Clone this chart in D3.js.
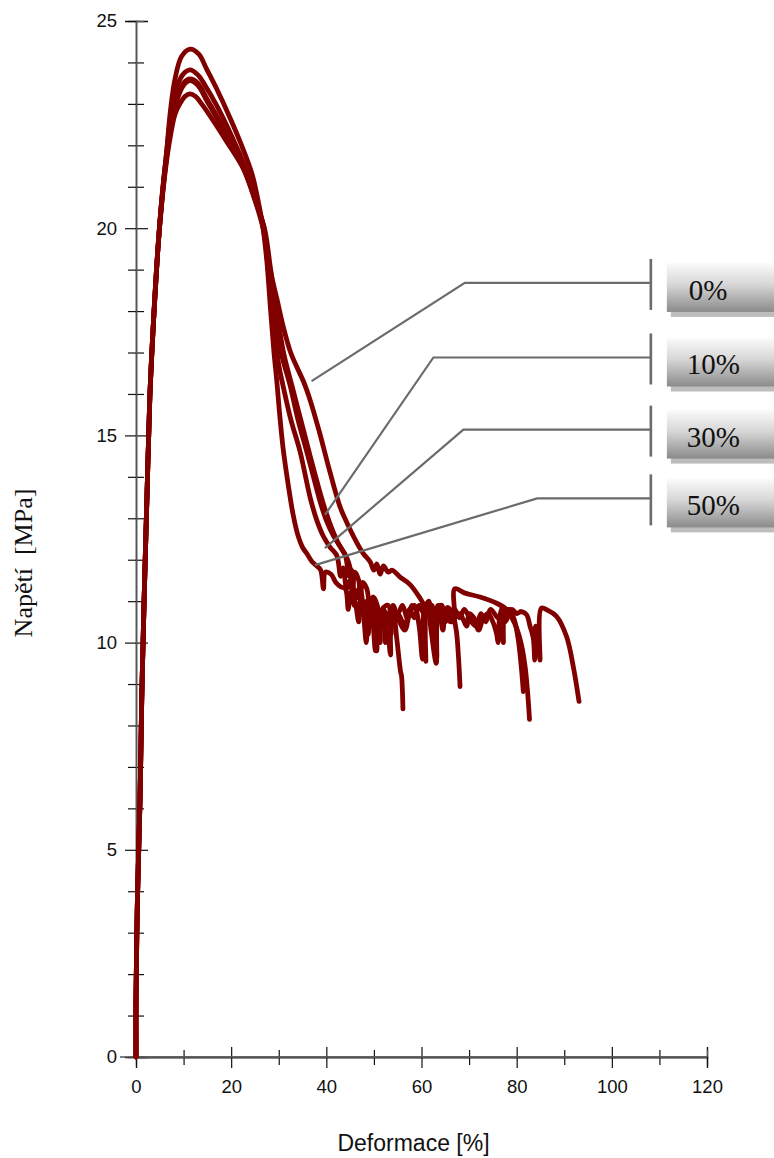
<!DOCTYPE html>
<html>
<head>
<meta charset="utf-8">
<script src="https://cdn.jsdelivr.net/npm/d3@7"></script>
<style>
  body { margin: 0; background: #fff; }
  svg { display: block; }
  .tick text { font-family: "Liberation Sans", Arial, sans-serif; font-size: 18.5px; fill: #111; }
</style>
</head>
<body>
<div id="chart"></div>
<script>
// stress–strain curves, values: [deformace %, napětí MPa]
const curve0 = [
  [0,0],[0,1.4],[0.3,3.8],[0.84,6.2],[1.2,8.6],[1.7,11],[2.3,13.5],[2.9,15.9],[3.7,17.8],[4.6,19.5],[5.5,20.7],
  [6.4,21.6],[7.2,22.2],[8.2,22.75],[9.2,23.0],[10.3,23.18],[11.35,23.24],[12.5,23.18],[13.8,23.0],[16.2,22.6],
  [19,22.1],[22.5,21.45],[24.5,20.85],[26.7,20.0],[28,19.1],[29.6,18.3],[31,17.6],[32.5,17.0],[34,16.6],[35.2,16.3],
  [36.6,15.85],[38.5,15.1],[40.8,14.1],[42.9,13.27],[44.3,12.9],[46,12.5],[47.7,12.16],[49.2,11.95],[50,11.75],
  [50.6,11.9],[51.3,11.65],[52,11.85],[53,11.7],[53.8,11.75],[55.5,11.58],[57.6,11.4],[59.7,11.07],[60.7,10.87],
  [61.5,10.7],[62.2,10.9],[62.8,10.3],[63.2,9.6],[63.5,10.8],[64.3,10.9],[65,10.6],[65.6,10.8],[66.4,10.5],
  [66.9,10.55],[67.0,11.3],[69,11.2],[72.3,11.1],[75.8,10.95],[77.9,10.8],[79,10.6],[80,10.35],[81,9.95],
  [81.8,9.4],[82.3,8.8],[82.7,8.15]
];
const curve10 = [
  [0,0],[0,1.4],[0.3,3.8],[0.84,6.2],[1.2,8.6],[1.7,11],[2.3,13.5],[2.9,15.9],[3.7,17.8],[4.6,19.5],[5.5,20.75],
  [6.4,21.7],[7.3,22.4],[8.5,23.05],[10,23.45],[11.35,23.56],[13,23.45],[15,23.05],[17.5,22.55],[20,22.0],[23,21.35],
  [25,20.7],[26.9,20.0],[28,19.0],[29.2,18.0],[30.5,17.0],[32.4,16.2],[34,15.4],[35.9,14.6],[37.3,14.0],[38.7,13.4],
  [40,12.95],[41.4,12.6],[43,12.3],[44.3,12.05],[45,11.8],[45.5,11.3],[46,11.7],[46.8,11.5],[47.2,11.0],[47.6,11.45],
  [48.5,11.3],[49.3,10.6],[49.8,11.1],[50.7,10.9],[51.3,10.0],[51.7,10.8],[53,10.9],[53.6,10.2],[54,10.8],[55,10.7],
  [56,10.9],[57,10.6],[58,10.9],[59,10.8],[60,10.9],[60.6,10.2],[60.9,9.55],[61.2,10.8],[62,10.8],[63,10.6],
  [64,10.9],[65,10.5],[66,10.8],[67,10.6],[68,10.7],[69.5,10.4],[70,10.7],[71,10.6],[72,10.3],[73,10.6],[74,10.7],
  [75,10.5],[75.8,10.2],[76.1,10.0],[76.4,10.6],[77.0,10.85],[77.2,10.0],[77.5,10.7],[78.5,10.8],[79.5,10.55],
  [80.3,10.1],[80.9,9.5],[81.4,8.82]
];
const curve30 = [
  [0,0],[0,1.4],[0.3,3.8],[0.84,6.2],[1.2,8.6],[1.7,11],[2.3,13.5],[2.9,15.9],[3.7,17.8],[4.6,19.5],[5.5,20.8],
  [6.4,21.8],[7.2,22.6],[8.3,23.3],[9.8,23.7],[11.35,23.82],[13,23.7],[14.5,23.45],[17,22.95],[20,22.25],[23,21.45],
  [25,20.75],[26.8,20.0],[27.8,19.0],[29,17.7],[30,16.7],[30.9,16.2],[32.5,15.4],[34.5,14.6],[36.6,13.5],[38,12.95],
  [39.4,12.56],[40.8,12.3],[42.2,12.1],[43,11.6],[43.5,11.8],[44.3,11.3],[45,11.5],[45.8,10.9],[46.3,11.2],
  [47.5,10.9],[48.4,10.0],[48.8,10.8],[49.6,10.6],[50.3,9.8],[50.6,10.7],[51.5,10.5],[52.3,10.7],[53,10.2],
  [53.5,9.7],[53.8,10.6],[55,10.7],[56.5,10.4],[57.5,10.8],[58.5,10.6],[59.5,10.9],[60.5,10.7],[61.3,10.9],
  [62,10.3],[63.1,9.5],[63.4,10.8],[64.5,10.7],[65.5,10.85],[66.5,10.7],[67.3,10.3],[67.8,9.6],[68.1,8.94]
];
const curve50 = [
  [0,0],[0,1.4],[0.3,3.8],[0.84,6.2],[1.2,8.6],[1.7,11],[2.3,13.5],[2.9,15.9],[3.7,17.8],[4.6,19.5],[5.5,20.8],
  [6.4,21.8],[7.2,22.8],[8.2,23.6],[9.6,24.15],[11.4,24.32],[13.2,24.2],[14.8,23.85],[16.8,23.4],[20,22.6],[22,22.05],
  [24.4,21.3],[25.6,20.7],[26.7,20.0],[27.5,19.2],[28.3,18.0],[29,17.0],[29.6,16.3],[30.2,15.5],[30.9,14.7],
  [32,13.8],[33,13.1],[34,12.6],[35,12.3],[35.9,12.15],[37,11.95],[38,11.85],[38.8,11.75],[39.4,11.3],[39.8,11.7],
  [41,11.65],[42,11.45],[43,11.35],[44,11.3],[44.6,10.8],[45,11.2],[46,11.0],[46.8,10.5],[47.2,11.0],[48,10.9],
  [48.8,10.2],[49.2,10.8],[50,10.7],[50.6,9.8],[51,10.6],[51.8,10.7],[52.4,10.0],[52.8,10.7],[53.5,10.5],[54,10.8],
  [54.8,10.1],[55.6,9.3],[55.8,9.2],[56.1,8.4]
];
const curveExtra = [
  [0,0],[0,1.4],[0.3,3.8],[0.84,6.2],[1.2,8.6],[1.7,11],[2.3,13.5],[2.9,15.9],[3.7,17.8],[4.6,19.5],[5.5,20.75],
  [6.4,21.7],[7.3,22.45],[8.5,23.1],[10,23.5],[11.4,23.6],[13,23.5],[15,23.1],[17.5,22.6],[20,22.05],[23,21.35],
  [25,20.7],[27,20.0],[28.3,19.0],[29.6,18.0],[31,17.0],[33,16.1],[34.8,15.3],[36.6,14.5],[38,13.9],[39.5,13.3],
  [41,12.8],[42.5,12.4],[44,12.1],[44.8,11.6],[45.3,11.75],[46,11.2],[47,11.3],[48,10.7],[48.5,11.0],[49.5,10.5],
  [50,10.9],[51,10.4],[52,10.8],[53,10.5],[54,10.9],[55,10.6],[56.5,10.3],[57.5,10.7],[58.5,10.9],[59.5,10.4],
  [60.2,9.6],[60.5,10.7],[61.5,11.0],[62.5,10.6],[63.5,10.9],[64.5,10.3],[65,10.7],[66,10.5],[67,10.8],[68,10.6],
  [69,10.8],[70.5,10.5],[71.5,10.4],[72.5,10.7],[73.5,10.5],[74.5,10.8],[76,10.6],[77.5,10.5],[79,10.8],[80,10.7],
  [81,10.75],[82.1,10.67],[82.8,10.4],[83.5,10.1],[83.8,9.58],[84.0,10.4],[84.6,10.2],[84.9,9.58],[85.2,10.83],
  [86.5,10.78],[88.4,10.63],[90.5,10.14],[91.9,9.42],[93.1,8.58]
];

const xMajorTicks = [0, 20, 40, 60, 80, 100, 120];
const xMinorTicks = [10, 30, 50, 70, 90, 110];
const yMajorTicks = [0, 5, 10, 15, 20, 25];
const yMinorTicks = [1,2,3,4,6,7,8,9,11,12,13,14,16,17,18,19,21,22,23,24];

// legend callouts: label, point on the curve, elbow of the leader line
const legendLabels = ['0%', '10%', '30%', '50%'];
const leaderEnds   = [[36.9, 16.31], [39.7, 13.08], [39.7, 12.28], [37.6, 11.87]];
const leaderElbows = [[69.1, 18.68], [62.5, 16.88], [68.8, 15.14], [84.3, 13.48]];

(function() {
    const width = 774, height = 1158;
    const left = 136, right = 707, top = 21, bottom = 1057;

    const x = d3.scaleLinear().domain([0, 120]).range([left, right]);
    const y = d3.scaleLinear().domain([0, 25]).range([bottom, top]);

    const svg = d3.select('#chart').append('svg')
        .attr('width', width)
        .attr('height', height);

    const defs = svg.append('defs');
    const grad = defs.append('linearGradient')
        .attr('id', 'boxGrad')
        .attr('x1', 0).attr('y1', 0).attr('x2', 0).attr('y2', 1);
    grad.append('stop').attr('offset', '0%').attr('stop-color', '#fbfbfb');
    grad.append('stop').attr('offset', '45%').attr('stop-color', '#d6d6d6');
    grad.append('stop').attr('offset', '100%').attr('stop-color', '#8a8a8a');

    // axes: major ticks cross the line, minor ticks shorter
    const axisStyle = g => {
        g.selectAll('.tick line').attr('stroke', '#111').attr('stroke-width', 1.2);
        g.select('.domain').attr('stroke', '#555').attr('stroke-width', 1.3);
    };

    svg.append('g').attr('transform', `translate(${left},0)`)
        .call(d3.axisRight(y).tickValues(yMajorTicks).tickSize(12).tickFormat(''))
        .call(axisStyle);
    svg.append('g').attr('transform', `translate(${left},0)`)
        .call(d3.axisRight(y).tickValues(yMinorTicks).tickSize(8).tickFormat(''))
        .call(axisStyle);
    svg.append('g').attr('transform', `translate(${left},0)`)
        .call(d3.axisLeft(y).tickValues(yMinorTicks).tickSize(8).tickFormat(''))
        .call(axisStyle);
    svg.append('g').attr('transform', `translate(${left},0)`)
        .call(d3.axisLeft(y).tickValues(yMajorTicks).tickSize(11).tickPadding(8).tickFormat(d3.format('d')))
        .call(axisStyle);

    svg.append('g').attr('transform', `translate(0,${bottom})`)
        .call(d3.axisTop(x).tickValues(xMajorTicks).tickSize(10).tickFormat(''))
        .call(axisStyle);
    svg.append('g').attr('transform', `translate(0,${bottom})`)
        .call(d3.axisTop(x).tickValues(xMinorTicks).tickSize(7).tickFormat(''))
        .call(axisStyle);
    svg.append('g').attr('transform', `translate(0,${bottom})`)
        .call(d3.axisBottom(x).tickValues(xMinorTicks).tickSize(8).tickFormat(''))
        .call(axisStyle);
    svg.append('g').attr('transform', `translate(0,${bottom})`)
        .call(d3.axisBottom(x).tickValues(xMajorTicks).tickSize(11).tickPadding(12).tickFormat(d3.format('d')))
        .call(axisStyle);

    // the x axis line runs on under the y=0 tick
    svg.append('line')
        .attr('x1', left - 16).attr('x2', right)
        .attr('y1', y(0)).attr('y2', y(0))
        .attr('stroke', '#555').attr('stroke-width', 1.3);

    svg.append('text')
        .attr('x', (left + right) / 2 - 8)
        .attr('y', 1151)
        .attr('text-anchor', 'middle')
        .attr('font-family', '"Liberation Sans", Arial, sans-serif')
        .attr('font-size', 23)
        .attr('fill', '#111')
        .text('Deformace [%]');

    svg.append('text')
        .attr('transform', 'rotate(-90)')
        .attr('x', -563)
        .attr('y', 32)
        .attr('text-anchor', 'middle')
        .attr('font-family', '"Liberation Serif", "Times New Roman", serif')
        .attr('font-size', 26)
        .attr('fill', '#111')
        .style('white-space', 'pre')
        .text('Napětí  [MPa]');

    // curves
    const line = d3.line()
        .x(d => x(d[0])).y(d => y(d[1]))
        .curve(d3.curveCatmullRom.alpha(0.5));
    const curves = [curveExtra, curve50, curve30, curve10, curve0];
    svg.append('g').selectAll('path')
        .data(curves)
        .enter()
        .append('path')
        .attr('d', line)
        .attr('fill', 'none')
        .attr('stroke', '#800000')
        .attr('stroke-width', 4.8)
        .attr('stroke-linejoin', 'round')
        .attr('stroke-linecap', 'round');

    // leader lines and labelled boxes
    const barX = 108.2;
    const legend = svg.append('g');
    legendLabels.forEach((lab, i) => {
        const e = leaderEnds[i], k = leaderElbows[i];
        const ly = y(k[1]);
        legend.append('polyline')
            .attr('points', [[x(e[0]), y(e[1])], [x(k[0]), ly], [x(barX), ly]].map(p => p.join(',')).join(' '))
            .attr('fill', 'none')
            .attr('stroke', '#6b6b6b')
            .attr('stroke-width', 2.2);
        legend.append('line')
            .attr('x1', x(barX)).attr('x2', x(barX))
            .attr('y1', ly - 24).attr('y2', ly + 27)
            .attr('stroke', '#6b6b6b')
            .attr('stroke-width', 2.6);
        const bx = x(barX) + 16, by = ly - 20;
        legend.append('rect')
            .attr('x', bx + 4).attr('y', by + 5)
            .attr('width', 120).attr('height', 49)
            .attr('fill', '#bdbdbd');
        legend.append('rect')
            .attr('x', bx).attr('y', by)
            .attr('width', 120).attr('height', 49)
            .attr('fill', 'url(#boxGrad)');
        legend.append('text')
            .attr('x', bx + (lab.length > 2 ? 20 : 22))
            .attr('y', by + 37)
            .attr('font-family', '"Liberation Serif", "Times New Roman", serif')
            .attr('font-size', 29)
            .attr('fill', '#111')
            .text(lab);
    });
})();
</script>
</body>
</html>
